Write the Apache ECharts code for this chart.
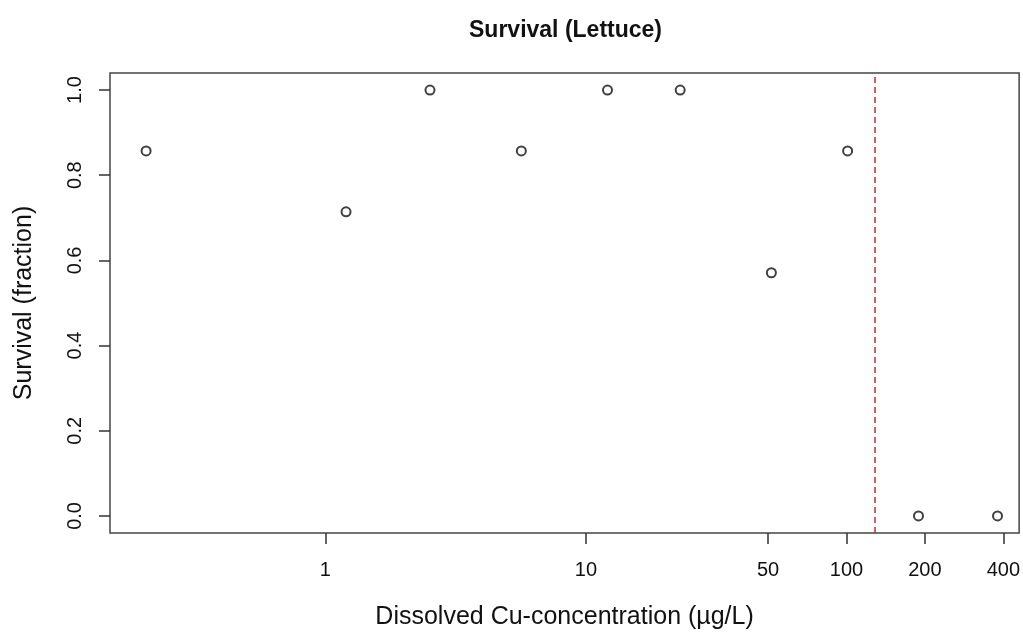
<!DOCTYPE html>
<html>
<head>
<meta charset="utf-8">
<title>Survival (Lettuce)</title>
<script src="https://cdn.jsdelivr.net/npm/echarts@6/dist/echarts.min.js"></script>
<style>
  html, body { margin: 0; padding: 0; background: #fff; }
  #chart { width: 1023px; height: 637px; }
</style>
</head>
<body>
<div id="chart"></div>
<script>
// dissolved Cu (ug/L) vs. survival fraction
const concentration = [0.205, 1.2, 2.52, 5.65, 12.1, 23, 51.5, 101, 189, 380]
const survival = [0.857, 0.714, 1, 0.857, 1, 1, 0.571, 0.857, 0, 0]
const xTicks = [1, 10, 50, 100, 200, 400]
const yTicks = [0, 0.2, 0.4, 0.6, 0.8, 1.0]
const cutoff = 128

const font = 'Liberation Sans, Arial, sans-serif'
const ink = '#111'

const chart = echarts.init(document.getElementById('chart'))

chart.setOption({
  animation: false,
  backgroundColor: '#fff',
  title: {
    text: 'Survival (Lettuce)',
    left: 464,
    top: 14,
    textStyle: { fontFamily: font, fontSize: 23, fontWeight: 'bold', color: ink }
  },
  grid: {
    left: 110,
    right: 3,
    top: 73,
    bottom: 104,
    show: true,
    borderColor: '#444',
    borderWidth: 1.5
  },
  xAxis: {
    type: 'log',
    logBase: 10,
    min: 0.149,
    max: 460,
    name: 'Dissolved Cu-concentration (µg/L)',
    nameLocation: 'middle',
    nameGap: 72,
    nameTextStyle: { fontFamily: font, fontSize: 25, color: ink },
    axisLine: { show: false, onZero: false },
    splitLine: { show: false },
    minorTick: { show: false },
    axisTick: {
      show: true,
      customValues: xTicks,
      length: 11,
      lineStyle: { color: '#333', width: 1.5 }
    },
    axisLabel: {
      customValues: xTicks,
      margin: 27,
      fontFamily: font,
      fontSize: 20,
      color: ink,
      formatter: (v) => String(v)
    }
  },
  yAxis: {
    type: 'value',
    min: -0.04,
    max: 1.04,
    name: 'Survival (fraction)',
    nameLocation: 'middle',
    nameGap: 73,
    nameRotate: 90,
    nameTextStyle: { fontFamily: font, fontSize: 25, color: ink },
    axisLine: { show: false, onZero: false },
    splitLine: { show: false },
    axisTick: {
      show: true,
      customValues: yTicks,
      length: 11,
      lineStyle: { color: '#333', width: 1.5 }
    },
    axisLabel: {
      customValues: yTicks,
      rotate: 90,
      margin: 25,
      fontFamily: font,
      fontSize: 20,
      color: ink,
      formatter: (v) => v.toFixed(1)
    }
  },
  series: [
    {
      type: 'scatter',
      data: concentration.map((c, i) => [c, survival[i]]),
      symbol: 'emptyCircle',
      symbolSize: 9,
      itemStyle: { color: '#111', borderWidth: 1.2 },
      markLine: {
        silent: true,
        symbol: 'none',
        label: { show: false },
        lineStyle: { color: '#cc2b2b', type: [6, 4], width: 1.5 },
        data: [{ xAxis: cutoff }]
      }
    }
  ]
})
</script>
</body>
</html>
